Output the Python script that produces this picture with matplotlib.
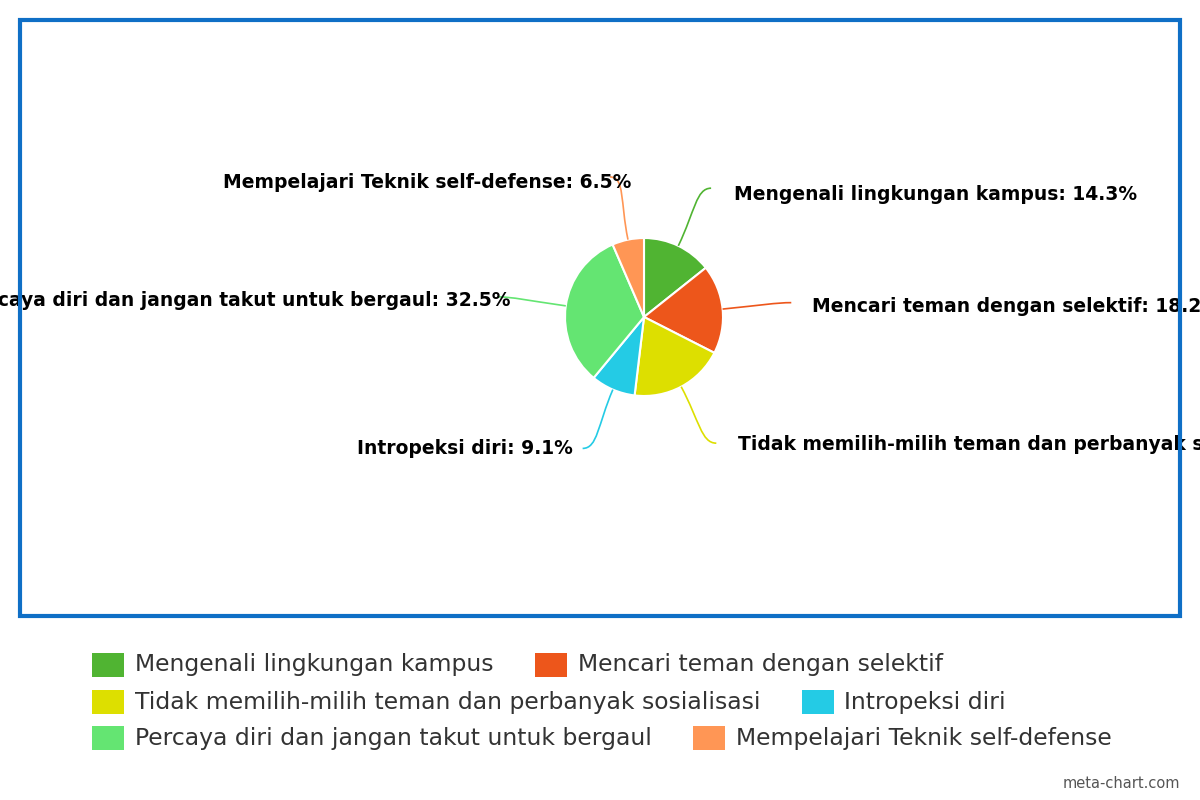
import numpy as np
import matplotlib
matplotlib.use('Agg')
import matplotlib.pyplot as plt
from matplotlib.path import Path
from matplotlib.patches import PathPatch, Rectangle

categories = ['Mengenali lingkungan kampus',
              'Mencari teman dengan selektif',
              'Tidak memilih-milih teman dan perbanyak sosialisasi',
              'Intropeksi diri',
              'Percaya diri dan jangan takut untuk bergaul',
              'Mempelajari Teknik self-defense']
values = [14.3, 18.2, 19.4, 9.1, 32.5, 6.5]
colors = ['#50B432', '#ED561B', '#DDDF00', '#24CBE5', '#64E572', '#FF9655']

# label anchors in image pixels (x, y from top, alignment)
label_pos = [(734, 195, 'left'), (812, 307, 'left'), (738, 445, 'left'),
             (573, 449, 'right'), (510, 301, 'right'), (631, 183, 'right')]

W, H = 1200, 800
fig = plt.figure(figsize=(12, 8), dpi=100)
ax = fig.add_axes([0, 0, 1, 1])

cx, cy, r = 644, H - 317, 79
wedges, _ = ax.pie(values, colors=colors, startangle=90, counterclock=False,
                   center=(cx, cy), radius=r, frame=True,
                   wedgeprops=dict(edgecolor='white', linewidth=1.5))
ax.set_xlim(0, W)
ax.set_ylim(0, H)
ax.set_aspect('equal')
ax.axis('off')

# soft connectors + labels
R2 = 143
for w, cat, v, c, (lx, ly, ha) in zip(wedges, categories, values, colors, label_pos):
    th = np.deg2rad((w.theta1 + w.theta2) / 2)
    u = np.array([np.cos(th), np.sin(th)])
    side = 1 if ha == 'left' else -1
    p0 = np.array([cx, cy]) + r * u
    p1 = np.array([cx, cy]) + (r + 0.6 * (R2 - r)) * u
    p3 = np.array([cx, cy]) + R2 * u + np.array([side * 5, 0])
    p2 = p3 - np.array([side * 15, 0])
    path = Path([p0, p1, p2, p3], [Path.MOVETO, Path.CURVE4, Path.CURVE4, Path.CURVE4])
    ax.add_patch(PathPatch(path, fc='none', ec=c, lw=1.2))
    ax.text(lx, H - ly, f'{cat}: {v}%', ha=ha, va='center', fontsize=13.5,
            fontweight='bold', family='DejaVu Sans', color='black')

# chart frame
ax.add_patch(Rectangle((20, H - 616), 1160, 596, fill=False, ec='#0f6fc6',
                       lw=3, zorder=10, clip_on=False))

# legend, flowing two items per row
renderer = fig.canvas.get_renderer()
row_y = [665, 702, 738]
for row in range(3):
    x = 92
    for k in range(2):
        i = row * 2 + k
        y = H - row_y[row]
        ax.add_patch(Rectangle((x, y - 12), 32, 24, fc=colors[i], ec='none'))
        t = ax.text(x + 43, y, categories[i], ha='left', va='center',
                    fontsize=16.9, color='#333333', family='DejaVu Sans')
        bb = t.get_window_extent(renderer)
        x = bb.x1 + 41

ax.text(1180, H - 784, 'meta-chart.com', ha='right', va='center',
        fontsize=10.5, color='#555555')

fig.savefig('out.png', dpi=100)
